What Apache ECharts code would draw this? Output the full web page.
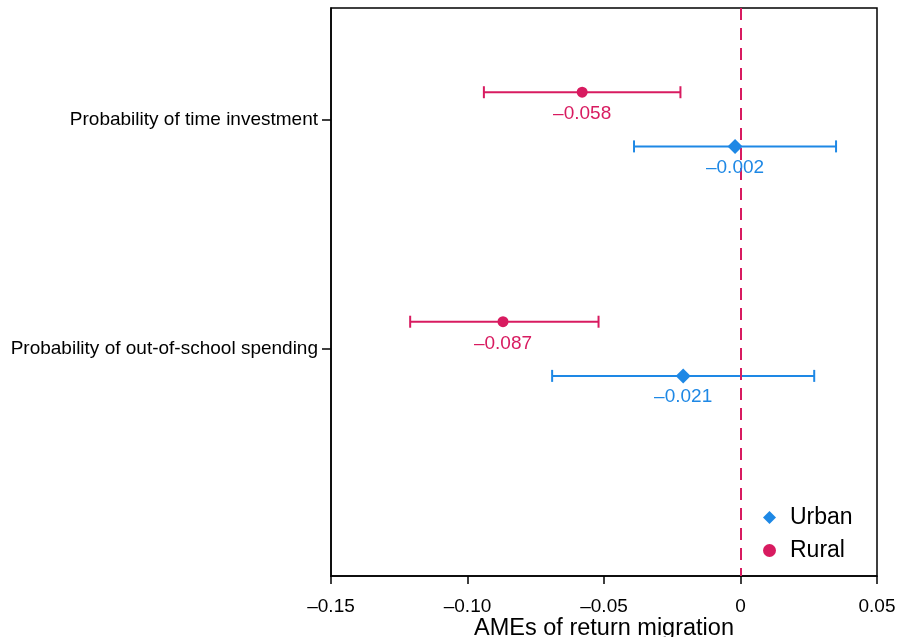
<!DOCTYPE html>
<html>
<head>
<meta charset="utf-8">
<script src="https://cdn.jsdelivr.net/npm/echarts@6/dist/echarts.min.js"></script>
<style>html,body{margin:0;padding:0;background:#fff}#c{width:899px;height:637px}</style>
</head>
<body>
<div id="c"></div>
<script>
var categories = ['Probability of time investment', 'Probability of out-of-school spending'];
var ruralEst = [-0.058, -0.087];
var ruralLow = [-0.094, -0.121];
var ruralHigh = [-0.022, -0.052];
var urbanEst = [-0.002, -0.021];
var urbanLow = [-0.039, -0.069];
var urbanHigh = [0.035, 0.027];
var xTickValues = [-0.15, -0.10, -0.05, 0, 0.05];
var xTickLabels = ['\u20130.15', '\u20130.10', '\u20130.05', '0', '0.05'];

var RURAL = '#D81B60', URBAN = '#1E88E5';
var OFF = 0.118;
var FONT = 'Liberation Sans, Arial, sans-serif';

function fmt(v) { return (v < 0 ? '\u2013' : '') + Math.abs(v).toFixed(3); }

function errData(low, high, off) {
  return categories.map(function (c, i) { return [low[i], high[i], i + 1 + off]; });
}
function ptData(est, off) {
  return categories.map(function (c, i) { return [est[i], i + 1 + off]; });
}
function renderErr(color) {
  return function (params, api) {
    var p1 = api.coord([api.value(0), api.value(2)]);
    var p2 = api.coord([api.value(1), api.value(2)]);
    var h = 6;
    var st = { stroke: color, lineWidth: 2 };
    return { type: 'group', children: [
      { type: 'line', shape: { x1: p1[0], y1: p1[1], x2: p2[0], y2: p2[1] }, style: st },
      { type: 'line', shape: { x1: p1[0], y1: p1[1] - h, x2: p1[0], y2: p1[1] + h }, style: st },
      { type: 'line', shape: { x1: p2[0], y1: p2[1] - h, x2: p2[0], y2: p2[1] + h }, style: st }
    ]};
  };
}

var chart = echarts.init(document.getElementById('c'), null, { renderer: 'canvas' });
chart.setOption({
  animation: false,
  textStyle: { fontFamily: FONT },
  grid: { left: 331, right: 22, top: 8, bottom: 61, containLabel: false, outerBoundsMode: 'none',
    show: true, borderColor: '#000', borderWidth: 1.5, backgroundColor: '#fff' },
  legend: {
    orient: 'vertical', left: 758, top: 501, itemGap: 10, itemWidth: 13, itemHeight: 13,
    textStyle: { fontSize: 23, color: '#000', fontFamily: FONT, padding: [0, 0, 0, 9] },
    data: [
      { name: 'Urban', icon: 'diamond', itemStyle: { color: URBAN } },
      { name: 'Rural', icon: 'circle', itemStyle: { color: RURAL } }
    ]
  },
  xAxis: {
    type: 'value', min: -0.15, max: 0.05, interval: 0.05,
    name: 'AMEs of return migration', nameLocation: 'middle', nameGap: 41, nameMoveOverlap: false,
    nameTextStyle: { fontSize: 23.5, color: '#000', fontFamily: FONT },
    axisLine: { show: true, onZero: false, lineStyle: { color: '#000', width: 1.5 } },
    axisTick: { show: true, length: 8, lineStyle: { color: '#000', width: 1.5 } },
    axisLabel: { fontSize: 19, color: '#000', margin: 21, fontFamily: FONT,
      formatter: function (v) {
        for (var i = 0; i < xTickValues.length; i++) if (Math.abs(v - xTickValues[i]) < 1e-9) return xTickLabels[i];
        return '';
      } },
    splitLine: { show: false }
  },
  yAxis: {
    type: 'value', inverse: true, min: 0.515, max: 2.99,
    axisLine: { show: true, onZero: false, lineStyle: { color: '#000', width: 1.5 } },
    axisTick: { show: true, length: 9, customValues: [1, 2], lineStyle: { color: '#000', width: 1.5 } },
    axisLabel: { fontSize: 19, color: '#000', margin: 13, fontFamily: FONT, customValues: [1, 2],
      formatter: function (v) { return categories[Math.round(v) - 1] || ''; } },
    splitLine: { show: false }
  },
  series: [
    { type: 'custom', name: 'RuralErr', renderItem: renderErr(RURAL), data: errData(ruralLow, ruralHigh, -OFF),
      encode: { x: [0, 1], y: 2 }, silent: true, z: 3 },
    { type: 'custom', name: 'UrbanErr', renderItem: renderErr(URBAN), data: errData(urbanLow, urbanHigh, OFF),
      encode: { x: [0, 1], y: 2 }, silent: true, z: 3 },
    { type: 'scatter', name: 'Rural', symbol: 'circle', symbolSize: 11, itemStyle: { color: RURAL, opacity: 1 },
      data: ptData(ruralEst, -OFF), z: 5,
      label: { show: true, position: 'bottom', distance: 7, fontSize: 19, color: RURAL, fontFamily: FONT,
        formatter: function (p) { return fmt(p.value[0]); } } },
    { type: 'scatter', name: 'Urban', symbol: 'diamond', symbolSize: 15, itemStyle: { color: URBAN, opacity: 1 },
      data: ptData(urbanEst, OFF), z: 5,
      label: { show: true, position: 'bottom', distance: 4, fontSize: 19, color: URBAN, fontFamily: FONT,
        formatter: function (p) { return fmt(p.value[0]); } },
      markLine: { silent: true, symbol: 'none', label: { show: false },
        lineStyle: { color: RURAL, type: [12, 8], width: 2 },
        data: [{ xAxis: 0 }] } }
  ]
});
</script>
</body>
</html>
